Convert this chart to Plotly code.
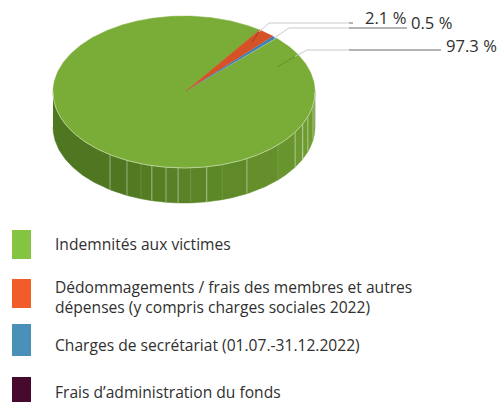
import math
import plotly.graph_objects as go

categories = ["Indemnités aux victimes",
              "Dédommagements / frais des membres et autres<br>dépenses (y compris charges sociales 2022)",
              "Charges de secrétariat (01.07.-31.12.2022)",
              "Frais d’administration du fonds"]
values = [97.3, 2.1, 0.5, 0.1]
labels = ["97.3 %", "2.1 %", "0.5 %"]

# styles / geometry
top_colors = ["#7aad37", "#d55227", "#3f80b4", "#470a2e"]
swatch_colors = ["#84c441", "#f15d2a", "#4a90b8", "#470a2e"]
W, H = 498, 402
CX, CY, RX, RY, DEPTH = 184, 92, 131, 76, 35
START = 45.0
SEAMS = [55.6, 64.2, 70.8, 75.8, 82.1, 87.4, 93, 100, 106.9, 118.7, 135.8, 148, 155, 161, 170]
FAINT = {70.8, 93, 106.9, 135.8}
FONT = "Open Sans"
TEXT = "#303030"


def pt(deg, dz=0.0):
    a = math.radians(deg)
    return CX + RX * math.cos(a), CY - RY * math.sin(a) + dz


def arc(a0, a1, dz=0.0):
    n = max(2, int(abs(a1 - a0) * 2))
    return [pt(a0 + (a1 - a0) * i / n, dz) for i in range(n + 1)]


def mix(c0, c1, t):
    return "rgb(%d,%d,%d)" % tuple(round(x + (y - x) * t) for x, y in zip(c0, c1))


fig = go.Figure()


def poly(points, color, name=None, width=0.5):
    fig.add_trace(go.Scatter(x=[p[0] for p in points], y=[p[1] for p in points], mode="lines",
                             fill="toself", fillcolor=color, name=name or "",
                             line=dict(color=color, width=width),
                             hoverinfo="skip", showlegend=False))


def seg(points, color, width=1.0):
    fig.add_trace(go.Scatter(x=[p[0] for p in points], y=[p[1] for p in points], mode="lines",
                             line=dict(color=color, width=width), hoverinfo="skip", showlegend=False))


# side wall, left to right through the front
dark, light = (79, 119, 33), (110, 155, 48)
edges = [0] + SEAMS + [180]
for a, b in zip(edges[:-1], edges[1:]):
    t = max(0.0, (a - 55.6) / 95)
    upper = arc(180 + a, 180 + b)
    lower = arc(180 + b, 180 + a, DEPTH)
    poly(upper + lower, mix(dark, light, min(t, 1)))
for s in SEAMS:
    col = "rgba(255,255,255,0.08)" if s in FAINT else "rgba(255,255,255,0.42)"
    seg([pt(180 + s), pt(180 + s, DEPTH)], col, 1)

# top face, clockwise from START
total = sum(values)
angle = START
for name, v, c in zip(categories, values, top_colors):
    sweep = v / total * 360
    pts = [(CX + 2, CY - 1)] + arc(angle, angle - sweep)
    poly(pts + [pts[0]], c, name=name.replace("<br>", " "), width=0.5 if v > 1 else 0)
    angle -= sweep
seg(arc(180, 360), "rgba(255,255,255,0.45)", 1)
seg([pt(360), pt(360, DEPTH)], "rgba(200,200,200,0.7)", 1)

# leader lines
LIGHT, DARK = "#c9c9c9", "#6b6b6b"
seg([(277, 67), (295, 56.5)], "#5d8a2a", 0.8)
seg([(295, 56.5), (307, 50), (349, 50)], LIGHT, 1)
seg([(349, 50), (441, 50)], DARK, 1)
seg([(252, 42), (259, 32)], "#8a3a1c", 0.8)
seg([(259, 32), (269, 23), (349, 23)], LIGHT, 1)
seg([(349, 23), (353, 23)], DARK, 1)
seg([(274, 38), (289, 28), (349, 28)], LIGHT, 1)
seg([(349, 28), (407, 28)], DARK, 1)


def text(x, y, s, size):
    fig.add_annotation(x=x, y=y, text=s, showarrow=False, xanchor="left", yanchor="middle",
                       xshift=-2, align="left", font=dict(family=FONT, size=size, color=TEXT))


text(446, 45, labels[0], 16.6)
text(365, 17, labels[1], 16.6)
text(411, 22, labels[2], 16.6)

# legend
rows = [(230, 259, 243.5), (279, 308, 296.5), (324, 356, 344.5), (377, 402, 391.5)]
for c, n, (y0, y1, ty) in zip(swatch_colors, categories, rows):
    fig.add_shape(type="rect", x0=12, x1=31, y0=y0, y1=y1, fillcolor=c, line_width=0, layer="above")
    text(55, ty, n, 15.6)

fig.update_layout(width=W, height=H, autosize=False, margin=dict(l=0, r=0, t=0, b=0),
                  paper_bgcolor="white", plot_bgcolor="white", showlegend=False,
                  xaxis=dict(range=[0, W], visible=False, fixedrange=True),
                  yaxis=dict(range=[H, 0], visible=False, fixedrange=True))
fig.write_html("out.html", config={"displayModeBar": False},
               post_script="document.body.style.margin='0';document.body.style.overflow='hidden';")
